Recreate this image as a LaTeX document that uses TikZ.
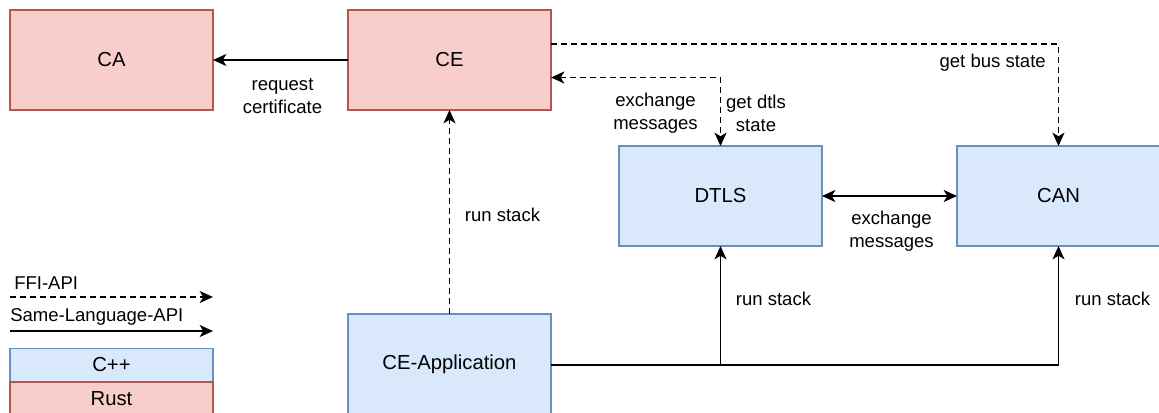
\documentclass[tikz,border=0pt]{standalone}
\usepackage{fontspec}
\setmainfont{Liberation Sans}
\usetikzlibrary{arrows.meta}
\definecolor{rustfill}{HTML}{F8CECC}
\definecolor{rustline}{HTML}{B85450}
\definecolor{cppfill}{HTML}{DAE8FC}
\definecolor{cppline}{HTML}{6C8EBF}
\begin{document}
\begin{tikzpicture}[x=0.75pt,y=-0.75pt,
  font=\fontsize{13.9}{17.25}\selectfont,
  comp/.style={draw, line width=1.2pt, minimum width=152.25pt, minimum height=75pt, inner sep=0pt, outer sep=0pt, font=\fontsize{15.2}{18}\selectfont},
  rust/.style={comp, fill=rustfill, draw=rustline},
  cpp/.style={comp, fill=cppfill, draw=cppline},
  legbox/.style={draw, line width=1.2pt, minimum width=152.25pt, minimum height=24.75pt, inner sep=0pt, outer sep=0pt, font=\fontsize{15.2}{18}\selectfont},
  lbl/.style={align=center, inner sep=0pt},
  conn/.style={line width=1.35pt, line join=miter, -{Stealth[length=10pt, width=9pt, inset=2.7pt]}},
  biconn/.style={line width=1.35pt, line join=miter, {Stealth[length=10pt, width=9pt, inset=2.7pt]}-{Stealth[length=10pt, width=9pt, inset=2.7pt]}},
  ffi/.style={dash pattern=on 4.5pt off 3pt}
]
\useasboundingbox (0,0) rectangle (1159,412);

% components
\node[rust] (CA) at (111.5,60) {CA};
\node[rust] (CE) at (449.5,60) {CE};
\node[cpp] (DTLS) at (720.5,196) {DTLS};
\node[cpp] (CAN) at (1058.5,196) {CAN};
\node[cpp] (APP) at (449.5,364) {CE-Application};

% connections
\draw[conn] (CE.west) -- (CA.east);
\node[lbl] (reqlbl) at (282.5,96.5) {request\\certificate};

\draw[conn, ffi] (CE.east) ++(0,-16) -| (CAN.north);
\node[lbl, anchor=east] (buslbl) at (1046,63) {get bus state};

\draw[biconn, ffi] (CE.east) ++(0,17.5) -| (DTLS.north);
\node[lbl] (exlbl) at (655.5,113.5) {exchange\\messages};
\node[lbl] (dtlslbl) at (756,113.5) {get dtls\\state};

\draw[biconn] (DTLS.east) -- (CAN.west);
\node[lbl] (ex2lbl) at (891.5,231.5) {exchange\\messages};

\draw[conn, ffi] (APP.north) -- (CE.south);
\node[lbl] (runce) at (502.5,215) {run stack};

\draw[line width=1.35pt] (APP.east) ++(0,1) coordinate (appout) -- (1059,365);
\draw[conn] (appout) -| (DTLS.south);
\draw[conn] (appout) -| (CAN.south);
\node[lbl] (rundtls) at (773.5,299) {run stack};
\node[lbl] (runcan) at (1112.5,299) {run stack};

% legend
\node[lbl, anchor=west] (ffitxt) at (14,283) {FFI-API};
\coordinate (ffiA) at (10,297);
\coordinate (ffiB) at (213,297);
\draw[conn, ffi] (ffiA) -- (ffiB);
\node[lbl, anchor=west] (samtxt) at (10,316.5) {Same-Language-API};
\coordinate (samA) at (10,331);
\coordinate (samB) at (213,331);
\draw[conn] (samA) -- (samB);
\node[legbox, fill=cppfill, draw=cppline] (cpp) at (111.5,365) {C++};
\node[legbox, fill=rustfill, draw=rustline] (rustleg) at (111.5,398.5) {Rust};
\end{tikzpicture}
\end{document}
